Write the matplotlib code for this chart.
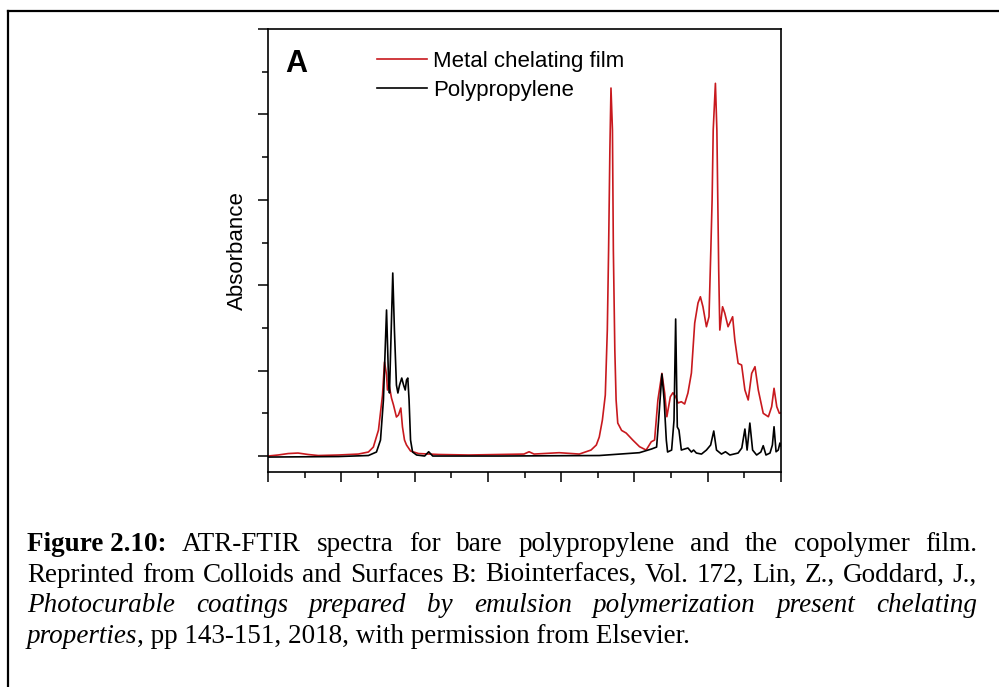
"""
ATR-FTIR spectra: bare polypropylene vs. metal chelating film (Figure 2.10).
"""

import matplotlib

matplotlib.use("Agg")

import matplotlib.pyplot as plt
from matplotlib.lines import Line2D
from matplotlib.ticker import MultipleLocator, NullFormatter

# ── data ──────────────────────────────────────────────────────────
pp_wn = [3600, 3216, 3052, 3008, 2986, 2970, 2953, 2942, 2937, 2926, 2919,
         2910, 2899, 2891, 2882, 2870, 2860, 2851, 2844, 2837, 2830, 2822,
         2811, 2789, 2745, 2723, 2701, 2340, 1792, 1573, 1507, 1479, 1468,
         1450, 1438, 1426, 1419, 1397, 1384, 1375, 1366, 1357, 1344, 1326,
         1308, 1289, 1277, 1262, 1234, 1207, 1184, 1167, 1152, 1125, 1103,
         1079, 1034, 1014, 997, 985, 970, 955, 933, 910, 897, 882, 860, 847,
         838, 827, 815, 806, 800]
pp_abs = [-0.012, -0.006, 0.006, 0.047, 0.187, 0.656, 1.710, 0.890, 0.738,
          1.593, 2.143, 1.475, 0.831, 0.738, 0.831, 0.913, 0.831, 0.773,
          0.890, 0.913, 0.656, 0.187, 0.047, 0.012, 0.0, 0.050, 0.0, 0.0,
          0.006, 0.039, 0.082, 0.105, 0.42, 0.960, 0.656, 0.187, 0.047,
          0.070, 0.42, 1.604, 0.340, 0.304, 0.070, 0.082, 0.094, 0.047,
          0.070, 0.035, 0.023, 0.070, 0.129, 0.293, 0.070, 0.023, 0.050,
          0.012, 0.035, 0.094, 0.316, 0.070, 0.386, 0.070, 0.012, 0.047,
          0.121, 0.012, 0.035, 0.129, 0.343, 0.050, 0.070, 0.152, 0.117]

film_wn = [3600, 3545, 3490, 3436, 3381, 3326, 3216, 3107, 3052, 3025, 2997,
           2975, 2964, 2953, 2948, 2939, 2926, 2915, 2899, 2888, 2875, 2866,
           2855, 2844, 2822, 2778, 2668, 2504, 2340, 2203, 2175, 2148, 2011,
           1901, 1837, 1808, 1792, 1775, 1759, 1748, 1741, 1734, 1728, 1720,
           1715, 1707, 1700, 1691, 1670, 1645, 1609, 1572, 1536, 1508, 1490,
           1472, 1450, 1435, 1423, 1404, 1390, 1375, 1362, 1344, 1326, 1308,
           1289, 1271, 1253, 1240, 1226, 1207, 1193, 1183, 1176, 1170, 1158,
           1150, 1145, 1140, 1134, 1119, 1107, 1089, 1064, 1052, 1034, 1015,
           997, 979, 960, 942, 924, 897, 869, 851, 838, 823, 809, 800]
film_abs = [0.0, 0.012, 0.029, 0.035, 0.018, 0.006, 0.012, 0.023, 0.047,
            0.105, 0.304, 0.714, 1.101, 0.948, 0.773, 0.831, 0.679, 0.597,
            0.457, 0.480, 0.562, 0.340, 0.187, 0.129, 0.059, 0.029, 0.018,
            0.012, 0.018, 0.023, 0.050, 0.023, 0.039, 0.023, 0.070, 0.129,
            0.222, 0.42, 0.714, 1.475, 2.412, 3.583, 4.309, 3.817, 2.412,
            1.241, 0.656, 0.386, 0.300, 0.269, 0.187, 0.109, 0.070, 0.167,
            0.187, 0.656, 0.968, 0.738, 0.460, 0.694, 0.741, 0.694, 0.621,
            0.636, 0.609, 0.738, 0.972, 1.557, 1.792, 1.865, 1.748, 1.514,
            1.631, 2.412, 2.998, 3.817, 4.364, 3.817, 2.998, 2.178, 1.475,
            1.748, 1.674, 1.514, 1.631, 1.358, 1.085, 1.066, 0.773, 0.656,
            0.968, 1.046, 0.773, 0.500, 0.460, 0.577, 0.793, 0.577, 0.500,
            0.507]

series_labels = ["Metal chelating film", "Polypropylene"]
series_colors = ["#c8191e", "#000000"]

caption_lines = [
    [("Figure 2.10:", "bold"), ("ATR-FTIR", ""), ("spectra", ""), ("for", ""),
     ("bare", ""), ("polypropylene", ""), ("and", ""), ("the", ""),
     ("copolymer", ""), ("film.", "")],
    [("Reprinted", ""), ("from", ""), ("Colloids", ""), ("and", ""),
     ("Surfaces", ""), ("B:", ""), ("Biointerfaces,", ""), ("Vol.", ""),
     ("172,", ""), ("Lin,", ""), ("Z.,", ""), ("Goddard,", ""), ("J.,", "")],
    [("Photocurable", "italic"), ("coatings", "italic"), ("prepared", "italic"),
     ("by", "italic"), ("emulsion", "italic"), ("polymerization", "italic"),
     ("present", "italic"), ("chelating", "italic")],
    [("properties", "italic"), (", pp 143-151, 2018, with permission from Elsevier.", "")],
]

# ── figure ─────────────────────────────────────────────────────────
W, H = 999, 687
fig = plt.figure(figsize=(W / 100, H / 100), dpi=100)
fig.patch.set_facecolor("white")

# frame around the figure (only top and left edges visible)
fig.add_artist(Line2D([8 / W, 1.0], [1 - 11 / H, 1 - 11 / H], color="black", lw=1.6))
fig.add_artist(Line2D([8 / W, 8 / W], [0.0, 1 - 11 / H], color="black", lw=1.6))

ax = fig.add_axes([268 / W, 1 - 472 / H, (781 - 268) / W, (472 - 29) / H])

ax.plot(film_wn, film_abs, color=series_colors[0], lw=1.2, label=series_labels[0])
ax.plot(pp_wn, pp_abs, color=series_colors[1], lw=1.2, label=series_labels[1])

ax.set_xlim(3600, 800)
ax.set_ylim(-0.187, 5.0)

ax.xaxis.set_major_locator(MultipleLocator(400))
ax.xaxis.set_minor_locator(MultipleLocator(200))
ax.yaxis.set_major_locator(MultipleLocator(1))
ax.yaxis.set_minor_locator(MultipleLocator(0.5))
ax.xaxis.set_major_formatter(NullFormatter())
ax.yaxis.set_major_formatter(NullFormatter())
ax.tick_params(which="major", direction="out", length=7, width=1.1)
ax.tick_params(which="minor", direction="out", length=4, width=1.1)
ax.tick_params(top=False, right=False, which="both")
for sp in ax.spines.values():
    sp.set_linewidth(1.2)

ax.set_ylabel("Absorbance", fontsize=16, family="Liberation Sans", labelpad=4)

ax.text(0.034, 0.922, "A", transform=ax.transAxes, fontsize=22, fontweight="bold",
        family="Liberation Sans", va="center", ha="left")

leg = ax.legend(loc="upper left", bbox_to_anchor=(0.212, 0.95), frameon=False,
                prop={"family": "Liberation Sans", "size": 16},
                handlelength=2.25, handletextpad=0.3, labelspacing=0.35,
                borderpad=0, borderaxespad=0)

# ── caption (justified by hand) ────────────────────────────────────
cap_left, cap_right = 27, 977
baselines = [551, 582, 612, 643]
cap_size = 19.5
renderer = fig.canvas.get_renderer()


def word_text(x, y, s, style):
    kw = dict(family="Liberation Serif", fontsize=cap_size, va="baseline", ha="left")
    if style == "bold":
        kw["fontweight"] = "bold"
    if style == "italic":
        kw["fontstyle"] = "italic"
    return fig.text(x / W, 1 - y / H, s, **kw)


for i, line in enumerate(caption_lines):
    y = baselines[i]
    texts = [word_text(0, y, s, st) for s, st in line]
    widths = [t.get_window_extent(renderer).width for t in texts]
    if i < len(caption_lines) - 1:
        gap = (cap_right - cap_left - sum(widths)) / (len(texts) - 1)
    else:
        gap = 0
    x = cap_left
    for t, w in zip(texts, widths):
        t.set_x(x / W)
        x += w + gap

fig.savefig("out.png", dpi=100, facecolor="white")
